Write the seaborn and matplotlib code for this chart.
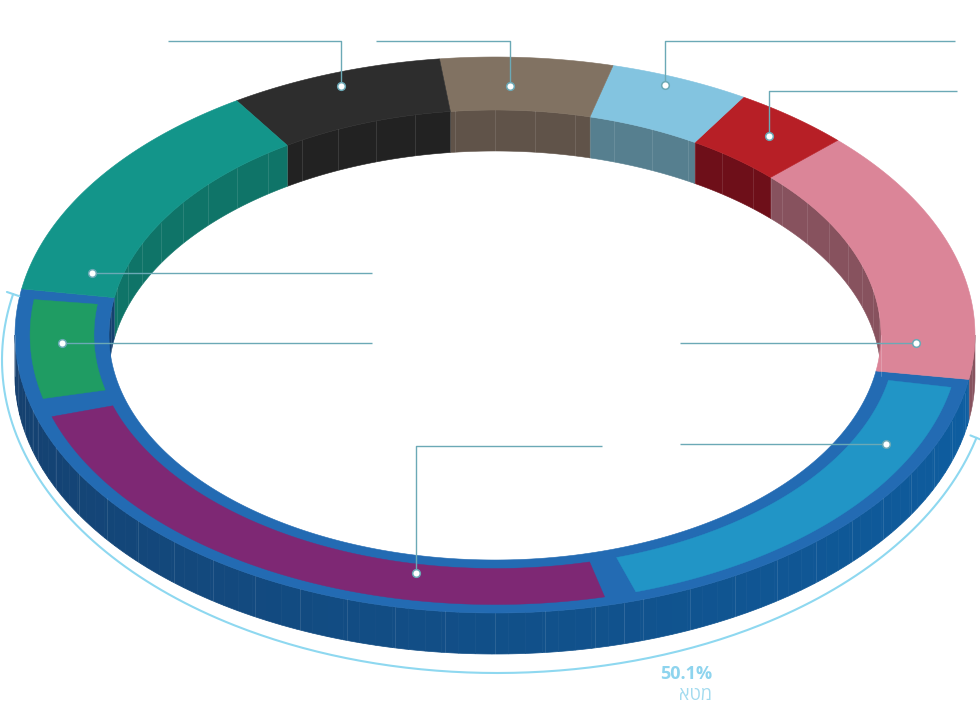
import numpy as np
import matplotlib
matplotlib.use("Agg")
import matplotlib.pyplot as plt
from matplotlib.patches import Polygon
import seaborn as sns

sns.set_theme(style="white")
plt.rcParams['font.family'] = ['Open Sans', 'DejaVu Sans']

# shares in percent, counter-clockwise starting from the lower edge of the pink slice
segments = ["pink", "red", "light_blue", "brown", "black", "teal", "green", "purple", "cyan"]
shares = [14.9, 4.0, 4.7, 5.8, 7.2, 13.3, 7.0, 25.0, 18.1]
in_group = [False, False, False, False, False, False, True, True, True]
group_name = "\u05d0\u05d8\u05de"

# colours (top surface / side wall)
top_colors = sns.color_palette(["#db8598", "#b71f26", "#83c4e0", "#817262", "#2d2d2d",
                                "#13958a", "#1f9c63", "#7e2874", "#2195c6"])
wall_colors = sns.color_palette(["#87525e", "#6e0f19", "#567f8f", "#605349", "#222222",
                                 "#0f7468", "#144170", "#134a84", "#0f5a9c"])
group_border = "#236bb3"
group_wall_left, group_wall_right = "#153f6d", "#0e5ea1"
line_col = "#6ba9b6"
bracket_col = "#8ed8f0"

# ring geometry (pixels)
CX, CY = 495, 335
A_OUT, B_OUT = 480, 278
A_IN, B_IN = 386, 225
DEPTH = 41
START = -9.2

# leader lines: dot angle, dot position across the ring, elbow y (None = straight), end x
leaders = {
    "pink": (-1.9, 0.38, None, 680),
    "red": (51.4, 0.565, 91, 957),
    "light_blue": (68.5, 0.82, 41, 955),
    "brown": (88.0, 0.46, 41, 376),
    "black": (109.7, 0.75, 41, 168),
    "teal": (165.1, 0.33, None, 372),
    "green": (181.8, 0.5, None, 372),
    "purple": (259.0, 0.32, 446, 602),
    "cyan": (-25.7, 0.51, None, 680),
}


def ring_xy(theta, f, dz=0.0):
    t = np.radians(theta)
    a = A_IN + (A_OUT - A_IN) * f
    b = B_IN + (B_OUT - B_IN) * f
    return CX + a * np.cos(t), CY - b * np.sin(t) + dz


def arc(t0, t1, f, dz=0.0):
    n = max(2, int(abs(t1 - t0) / 0.5) + 2)
    x, y = ring_xy(np.linspace(t0, t1, n), f, dz)
    return np.column_stack([x, y])


def band(t0, t1, f0, f1):
    return np.vstack([arc(t0, t1, f1), arc(t1, t0, f0)])


def wall(t0, t1, f):
    return np.vstack([arc(t0, t1, f), arc(t1, t0, f, DEPTH)])


def clip(t0, t1, lo, hi):
    a, b = max(t0, lo), min(t1, hi)
    return (a, b) if b > a else None


def mix(c0, c1, w):
    c0, c1 = np.array(matplotlib.colors.to_rgb(c0)), np.array(matplotlib.colors.to_rgb(c1))
    return tuple(c0 + (c1 - c0) * w)


fig = plt.figure(figsize=(9.8, 7.03), dpi=100)
ax = fig.add_axes([0, 0, 1, 1])
ax.set_xlim(0, 980)
ax.set_ylim(703, 0)
ax.axis('off')

angles = np.cumsum([0] + [s * 3.6 for s in shares]) + START
bounds = list(zip(angles[:-1], angles[1:]))

# side walls: inner wall seen at the back, outer wall seen at the front
for i, (t0, t1) in enumerate(bounds):
    parts = [(clip(t0, t1, 0, 180), 0.0)]
    parts += [(clip(t0, t1, -180, 0), 1.0), (clip(t0, t1, 180, 360), 1.0)]
    for rng, f in parts:
        if rng is None:
            continue
        a0, a1 = rng
        if in_group[i] and f == 1.0:
            steps = np.arange(a0, a1, 2.0).tolist() + [a1]
            for s0, s1 in zip(steps[:-1], steps[1:]):
                w = np.clip((0.5 * (s0 + s1) - 180) / 170, 0, 1)
                c = mix(group_wall_left, group_wall_right, w)
                ax.add_patch(Polygon(wall(s0, s1, f), closed=True, fc=c, ec=c, lw=0.5))
        else:
            c = wall_colors[i]
            ax.add_patch(Polygon(wall(a0, a1, f), closed=True, fc=c, ec=c, lw=0.4))
        # faint facet lines on the wall
        for t in np.arange(np.ceil(a0 / 6) * 6, a1, 6).tolist() + [a0]:
            x0, y0 = ring_xy(t, f)
            x1, y1 = ring_xy(t, f, DEPTH)
            ax.plot([x0, x1], [y0, y1], color="white", alpha=0.13, lw=0.6)

# top surfaces
grp = [b for b, g in zip(bounds, in_group) if g]
g0, g1 = grp[0][0], grp[-1][1]
ax.add_patch(Polygon(band(g0, g1, 0, 1), closed=True, fc=group_border, ec=group_border, lw=0.4))
for i, (t0, t1) in enumerate(bounds):
    if in_group[i]:
        gap = 2.0
        ax.add_patch(Polygon(band(t0 + gap, t1 - gap, 0.16, 0.84), closed=True,
                             fc=top_colors[i], ec=top_colors[i], lw=0.3))
    else:
        ax.add_patch(Polygon(band(t0, t1, 0, 1), closed=True,
                             fc=top_colors[i], ec=top_colors[i], lw=0.4))

# leader lines
for name in segments:
    th, f, elbow, xend = leaders[name]
    x, y = ring_xy(th, f)
    if elbow is None:
        xs, ys = [x, xend], [y, y]
    else:
        xs, ys = [x, x, xend], [y, elbow, elbow]
    ax.plot(xs, ys, color=line_col, lw=1.0, solid_capstyle='butt')
    ax.plot([x], [y], 'o', ms=5.5, mfc="white", mec=line_col, mew=1.1)

# bracket around the highlighted group
BX, BY, BA, BB = 497, 360, 495, 313
t = np.radians(np.linspace(g0 - 2.6, g1 - 5.2, 300))
ax.plot(BX + BA * np.cos(t), BY - BB * np.sin(t), color=bracket_col, lw=1.5)
for te in (t[0], t[-1]):
    px, py = BX + BA * np.cos(te), BY - BB * np.sin(te)
    nx, ny = BB * np.cos(te), -BA * np.sin(te)
    nrm = np.hypot(nx, ny)
    nx, ny = nx / nrm, ny / nrm
    ax.plot([px - 6.5 * nx, px + 6.5 * nx], [py - 6.5 * ny, py + 6.5 * ny], color=bracket_col, lw=1.5)

group_share = sum(s for s, g in zip(shares, in_group) if g)
ax.text(686, 674, f"{group_share:.1f}%", ha='center', va='center', fontsize=13,
        fontweight='bold', color="#8ed4ee")
ax.text(695, 695, group_name, ha='center', va='center', fontsize=13, color="#a3dbef")

fig.savefig("out.png", dpi=100)
